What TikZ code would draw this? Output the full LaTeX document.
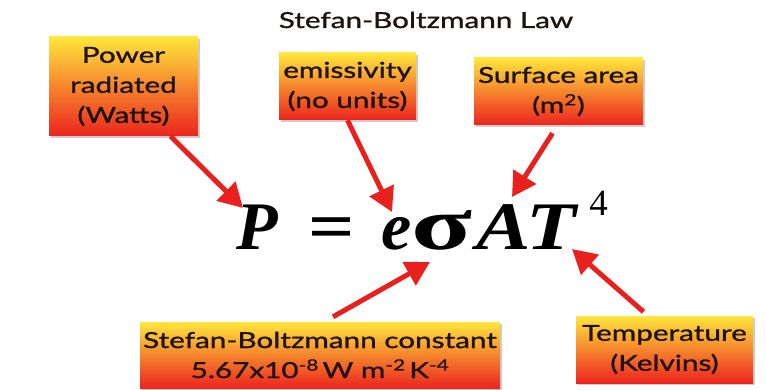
\documentclass[tikz,border=0pt]{standalone}
\usepackage{fontspec}
\setmainfont{Lato}[FakeStretch=1.35,FakeBold=1.2]
\newfontfamily\eqfont{Liberation Serif}
\usetikzlibrary{arrows.meta,shadows}
\definecolor{boxyellow}{RGB}{255,230,60}
\definecolor{boxred}{RGB}{236,36,30}
\definecolor{arrowred}{RGB}{232,32,30}
\definecolor{inkdark}{RGB}{30,20,15}

\begin{document}
\begin{tikzpicture}[x=1pt,y=-1pt,
  labelbox/.style={top color=boxyellow,bottom color=boxred,inner sep=0pt,align=center,
    text=inkdark,font=\fontsize{22}{30}\selectfont,
    drop shadow={shadow xshift=2pt,shadow yshift=-2pt,opacity=0.4}},
  pointer/.style={-{Triangle[width=26pt,length=24pt]},line width=5pt,draw=arrowred}]
\useasboundingbox (0,0) rectangle (766,390);
%title
\node[anchor=base,text=inkdark] (title) at (426,28) {\fontsize{22}{22}\selectfont Stefan-Boltzmann Law};
%equation
\node[anchor=base west,inner sep=0pt] (law) at (236,250)
  {\eqfont\fontsize{68}{68}\selectfont\textbf{\textit{P}}\hspace{30pt}\scalebox{1.2}[1]{\textbf{=}}\hspace{27pt}\textbf{\textit{e}}\scalebox{1.65}[1.1]{\textbf{σ}}\hspace{4pt}\scalebox{1.2}[1]{\textbf{\textit{AT}}}\hspace{10pt}\raisebox{34pt}{\fontsize{37}{37}\selectfont 4}};
%boxes
\node[labelbox,minimum width=149pt,minimum height=99pt] (power) at (123.5,86.5) {Power\\radiated\\(Watts)};
\node[labelbox,minimum width=137pt,minimum height=67pt] (emis) at (347.5,86.5) {emissivity\\(no units)};
\node[labelbox,minimum width=169pt,minimum height=67pt] (area) at (558.5,91.5) {Surface area\\(m\textsuperscript{2})};
\node[labelbox,minimum width=360pt,minimum height=66pt] (sbconst) at (320,355)
  {Stefan-Boltzmann constant\\5.67x10\textsuperscript{-8}\,W m\textsuperscript{-2}\,K\textsuperscript{-4}};
\node[labelbox,minimum width=177pt,minimum height=67pt] (temp) at (664.5,349.5) {Temperature\\(Kelvins)};
%arrow tips
\coordinate (tipP) at (243,208);
\coordinate (tipE) at (392,212);
\coordinate (tipA) at (512,197);
\coordinate (tipS) at (430,262);
\coordinate (tipT) at (572,249);
%arrows
\draw[pointer] ([xshift=47pt]power.south) -- (tipP);
\draw[pointer] (emis.south) -- (tipE);
\draw[pointer] ([xshift=-6pt,yshift=-8pt]area.south) -- (tipA);
\draw[pointer] ([xshift=13pt,yshift=5pt]sbconst.north) -- (tipS);
\draw[pointer] ([xshift=-21pt,yshift=4pt]temp.north) -- (tipT);
\end{tikzpicture}
\end{document}
